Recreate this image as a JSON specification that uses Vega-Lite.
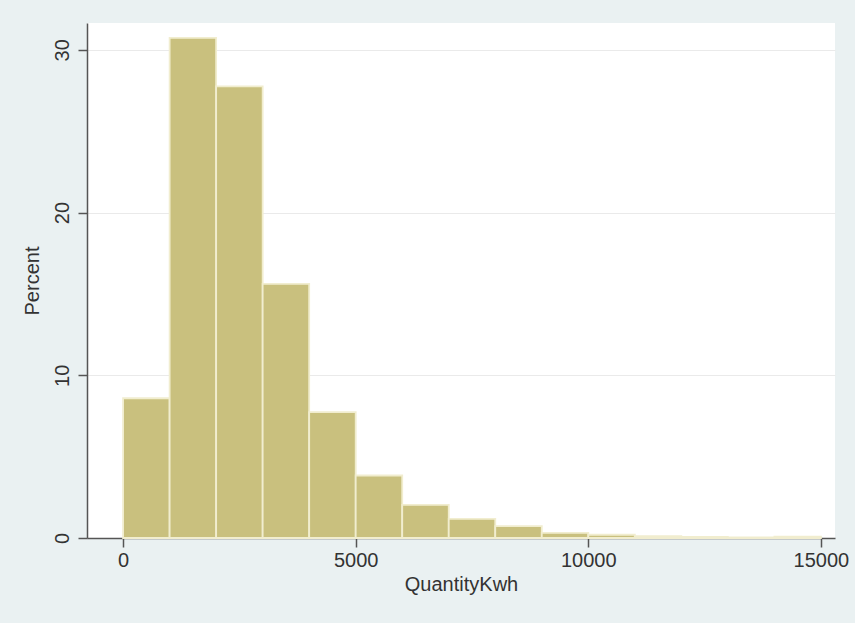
{
  "$schema": "https://vega.github.io/schema/vega-lite/v6.json",
  "width": 748,
  "height": 515,
  "autosize": {"type": "none"},
  "padding": {"left": 87, "top": 23, "right": 20, "bottom": 85},
  "background": "#EAF1F2",
  "config": {
    "view": {"fill": "#FFFFFF", "stroke": null},
    "font": "Liberation Sans"
  },
  "data": {
    "values": [
      {"bin_start": 0, "bin_end": 1000, "percent": 8.59},
      {"bin_start": 1000, "bin_end": 2000, "percent": 30.74},
      {"bin_start": 2000, "bin_end": 3000, "percent": 27.75},
      {"bin_start": 3000, "bin_end": 4000, "percent": 15.62},
      {"bin_start": 4000, "bin_end": 5000, "percent": 7.73},
      {"bin_start": 5000, "bin_end": 6000, "percent": 3.84},
      {"bin_start": 6000, "bin_end": 7000, "percent": 2.04},
      {"bin_start": 7000, "bin_end": 8000, "percent": 1.18},
      {"bin_start": 8000, "bin_end": 9000, "percent": 0.73},
      {"bin_start": 9000, "bin_end": 10000, "percent": 0.32},
      {"bin_start": 10000, "bin_end": 11000, "percent": 0.2},
      {"bin_start": 11000, "bin_end": 12000, "percent": 0.12},
      {"bin_start": 12000, "bin_end": 13000, "percent": 0.06},
      {"bin_start": 13000, "bin_end": 14000, "percent": 0.04},
      {"bin_start": 14000, "bin_end": 15000, "percent": 0.08}
    ]
  },
  "mark": {"type": "bar", "color": "#C9C07E", "stroke": "#F1EDCF", "strokeWidth": 1.8, "opacity": 1},
  "encoding": {
    "x": {
      "field": "bin_start",
      "type": "quantitative",
      "scale": {"domain": [-776, 15303], "nice": false, "zero": false},
      "axis": {
        "title": "QuantityKwh",
        "values": [0, 5000, 10000, 15000],
        "format": "d",
        "grid": false,
        "labelFlush": false,
        "domainColor": "#555555",
        "domainWidth": 1.5,
        "tickColor": "#555555",
        "tickWidth": 1.5,
        "tickSize": 9,
        "labelFontSize": 20,
        "labelColor": "#333333",
        "labelPadding": 3,
        "labelFont": "Liberation Sans",
        "titleFont": "Liberation Sans",
        "titleFontSize": 20,
        "titleFontWeight": "normal",
        "titleColor": "#333333",
        "titlePadding": 4
      }
    },
    "x2": {"field": "bin_end"},
    "y": {
      "field": "percent",
      "type": "quantitative",
      "scale": {"domain": [0, 31.65], "nice": false},
      "axis": {
        "title": "Percent",
        "values": [0, 10, 20, 30],
        "grid": true,
        "gridColor": "#EAEAEA",
        "gridWidth": 1,
        "labelFlush": false,
        "domainColor": "#555555",
        "domainWidth": 1.5,
        "tickColor": "#555555",
        "tickWidth": 1.5,
        "tickSize": 9,
        "labelAngle": -90,
        "labelAlign": "center",
        "labelBaseline": "bottom",
        "labelFontSize": 20,
        "labelColor": "#333333",
        "labelPadding": 6,
        "labelFont": "Liberation Sans",
        "titleFont": "Liberation Sans",
        "titleFontSize": 20,
        "titleFontWeight": "normal",
        "titleColor": "#333333",
        "titlePadding": 10
      }
    },
    "y2": {"datum": 0}
  }
}
